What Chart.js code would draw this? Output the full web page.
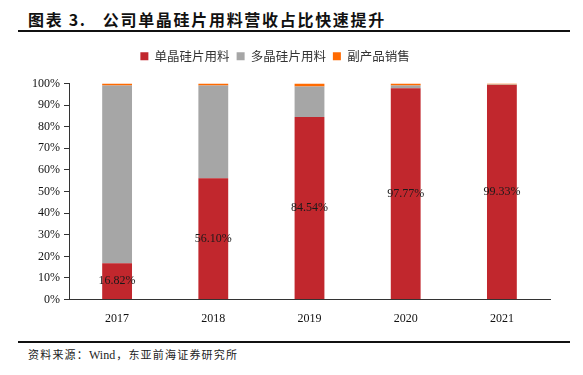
<!DOCTYPE html>
<html>
<head>
<meta charset="utf-8">
<script src="https://cdn.jsdelivr.net/npm/chart.js@4.4.0/dist/chart.umd.min.js"></script>
<style>
    body { margin: 0; background: #fff; width: 583px; height: 375px; position: relative; overflow: hidden; }
    .title { position: absolute; left: 28px; top: 8px; font: bold 16px/22px "Noto Sans CJK SC", sans-serif; color: #111; letter-spacing: 1.7px; white-space: nowrap; }
    .rule { position: absolute; left: 18px; width: 552px; height: 1.5px; background: #111; }
    .source { position: absolute; left: 28px; top: 347px; font: 11px/16px "Liberation Serif", "Noto Sans CJK SC", serif; color: #222; letter-spacing: 1.2px; white-space: nowrap; }
    .source span { letter-spacing: 0; font-size: 12px; margin-right: 1px; }
    #chartBox { position: absolute; left: 0; top: 40px; width: 583px; height: 296px; }
</style>
</head>
<body>
<div class="title">图表 3.&nbsp;&nbsp; 公司单晶硅片用料营收占比快速提升</div>
<div class="rule" style="top:30px"></div>
<div id="chartBox"><canvas id="chart"></canvas></div>
<div class="rule" style="top:341px"></div>
<div class="source">资料来源：<span>Wind</span>，东亚前海证券研究所</div>

<script>
// Data
const years = ['2017', '2018', '2019', '2020', '2021'];
const monoShare = [16.82, 56.10, 84.54, 97.77, 99.33];
const polyShare = [82.28, 43.00, 14.06, 1.33, 0.20];
const byproductShare = [0.90, 0.90, 1.40, 0.90, 0.47];
const yTicks = [0, 10, 20, 30, 40, 50, 60, 70, 80, 90, 100];

const SERIF = '"Liberation Serif", "Times New Roman", serif';

// Percentage labels in the middle of the red bars
const barLabels = {
    id: 'barLabels',
    afterDatasetsDraw(chart) {
        const ctx = chart.ctx;
        const meta = chart.getDatasetMeta(0);
        ctx.save();
        ctx.font = '12px ' + SERIF;
        ctx.fillStyle = '#1a1a1a';
        ctx.textAlign = 'center';
        ctx.textBaseline = 'middle';
        meta.data.forEach((bar, i) => {
            const p = bar.getProps(['x', 'y', 'base'], true);
            ctx.fillText(monoShare[i].toFixed(2) + '%', p.x, (p.y + p.base) / 2);
        });
        ctx.restore();
    }
};

// Extra room between legend and plot
const legendGap = {
    id: 'legendGap',
    beforeInit(chart) {
        const fit = chart.legend.fit;
        chart.legend.fit = function() {
            fit.bind(chart.legend)();
            this.height += 11;
        };
    }
};

const ctx = document.getElementById('chart').getContext('2d');
new Chart(ctx, {
    type: 'bar',
    data: {
        labels: years,
        datasets: [
            { label: '单晶硅片用料', data: monoShare, backgroundColor: '#C1272D' },
            { label: '多晶硅片用料', data: polyShare, backgroundColor: '#A6A6A6' },
            { label: '副产品销售', data: byproductShare, backgroundColor: '#FF6A00' }
        ]
    },
    options: {
        responsive: true,
        maintainAspectRatio: false,
        animation: false,
        datasets: {
            bar: { categoryPercentage: 1, barPercentage: 0.31 }
        },
        layout: { padding: { left: 0, right: 33, top: 3, bottom: 6 } },
        plugins: {
            legend: {
                position: 'top',
                labels: {
                    boxWidth: 8,
                    boxHeight: 8,
                    padding: 7,
                    color: '#333',
                    font: { family: '"Noto Sans CJK SC", sans-serif', size: 12.5 }
                }
            },
            tooltip: { enabled: false }
        },
        scales: {
            x: {
                stacked: true,
                grid: { display: false },
                border: { display: true, color: '#333', width: 1 },
                ticks: { color: '#111', font: { family: SERIF, size: 12 }, padding: 4 }
            },
            y: {
                stacked: true,
                min: 0,
                max: 100,
                afterBuildTicks(scale) {
                    scale.ticks = yTicks.map(v => ({ value: v }));
                },
                afterFit(scale) {
                    scale.width = 69;
                },
                grid: { drawOnChartArea: false, tickLength: 5, tickColor: '#333' },
                border: { display: true, color: '#333', width: 1 },
                ticks: {
                    color: '#111',
                    font: { family: SERIF, size: 12 },
                    padding: 4,
                    callback: v => v + '%'
                }
            }
        }
    },
    plugins: [barLabels, legendGap]
});
</script>
</body>
</html>
